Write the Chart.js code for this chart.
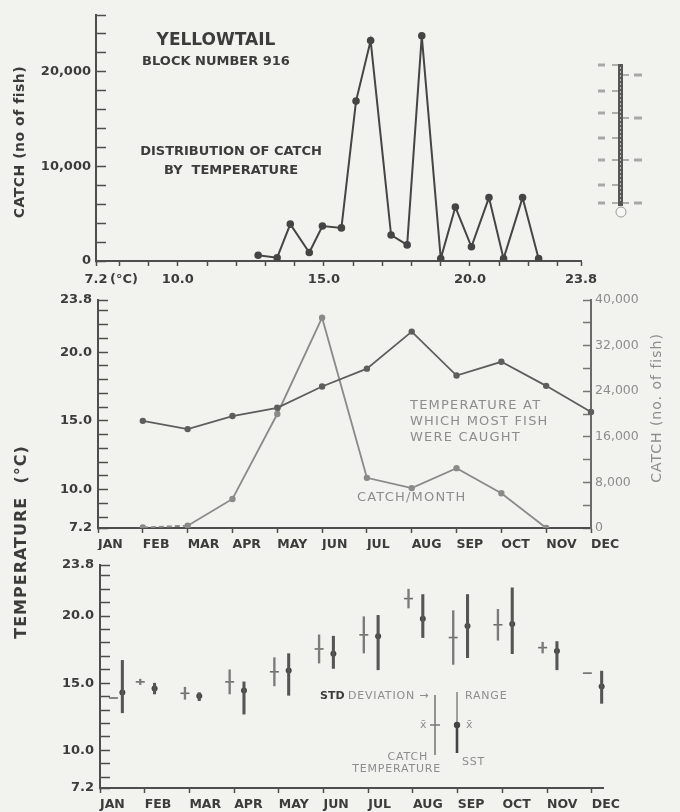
<!DOCTYPE html>
<html>
<head>
<meta charset="utf-8">
<title>Yellowtail block 916</title>
<script src="https://cdn.jsdelivr.net/npm/chart.js@4.4.1/dist/chart.umd.min.js"></script>
<style>
  html, body { margin: 0; padding: 0; background: #f2f2ef; }
  #wrap { position: relative; width: 680px; height: 812px; overflow: hidden; }
  #wrap canvas { position: absolute; left: 0; top: 0; }
</style>
</head>
<body>
<div id="wrap">
  <canvas id="distChart" width="680" height="812"></canvas>
  <canvas id="monthChart" width="680" height="812"></canvas>
  <canvas id="rangeChart" width="680" height="812"></canvas>
</div>
<script>
// catch distribution by temperature (top panel)
const distTemps = [12.75, 13.4, 13.85, 14.5, 14.95, 15.6, 16.1, 16.6, 17.3, 17.85, 18.35, 19.0, 19.5, 20.05, 20.65, 21.15, 21.8, 22.35];
const distCatch = [600, 350, 3900, 900, 3700, 3500, 16900, 23300, 2750, 1700, 23800, 250, 5700, 1500, 6700, 250, 6700, 250];

// monthly values (middle panel)
const months = ['JAN', 'FEB', 'MAR', 'APR', 'MAY', 'JUN', 'JUL', 'AUG', 'SEP', 'OCT', 'NOV', 'DEC'];
const mostCatchTemp = [null, 15.0, 14.4, 15.35, 15.95, 17.5, 18.8, 21.5, 18.3, 19.3, 17.55, 15.65];
const catchPerMonth = [null, 100, 400, 5100, 20000, 36900, 8800, 7000, 10500, 6100, 0, null];

// catch temperature and SST per month (bottom panel)
const catchTempMean = [13.9, 15.1, 14.25, 15.1, 15.85, 17.55, 18.6, 21.3, 18.4, 19.35, 17.65, 15.75];
const catchTempSd = [0, 0.2, 0.45, 0.9, 1.05, 1.05, 1.35, 0.7, 2.0, 1.15, 0.4, 0];
const sstMean = [14.3, 14.6, 14.05, 14.45, 15.95, 17.2, 18.5, 19.8, 19.25, 19.4, 17.4, 14.75];
const sstMin = [12.8, 14.2, 13.7, 12.7, 14.1, 16.1, 16.0, 18.4, 16.9, 17.2, 16.0, 13.5];
const sstMax = [16.7, 15.0, 14.3, 15.1, 17.2, 18.5, 20.05, 21.6, 21.6, 22.1, 18.1, 15.9];

// tick labels
const tempTickValues = [7.2, 10, 15, 20, 23.8];
const tempTickLabels = ['7.2', '10.0', '15.0', '20.0', '23.8'];
const distCatchLabels = [0, 10000, 20000];
const monthCatchLabels = [0, 8000, 16000, 24000, 32000, 40000];

const FAMILY = '"DejaVu Sans", sans-serif';
const INK = '#3c3c3c';
const FADE = '#8d8d8d';
const AXIS = '#4e4e4e';

// ticks every 1 degC plus both ends
function tempTicks(scale) {
    const t = [7.2];
    for (let v = 8; v <= 23; v++) t.push(v);
    t.push(23.8);
    scale.ticks = t.map(v => ({ value: v }));
}

function tempLabel(value) {
    const i = tempTickValues.findIndex(v => Math.abs(v - value) < 1e-6);
    return i >= 0 ? tempTickLabels[i] : '';
}

function fixSize(prop, size) {
    return function(scale) {
        scale[prop] = size;
        scale.paddingTop = 0;
        scale.paddingBottom = 0;
        scale.paddingLeft = 0;
        scale.paddingRight = 0;
    };
}

function note(ctx, text, x, y, o = {}) {
    ctx.save();
    ctx.font = o.font || 'bold 13px ' + FAMILY;
    ctx.fillStyle = o.color || INK;
    ctx.textAlign = o.align || 'left';
    ctx.textBaseline = 'middle';
    if (o.spacing) ctx.letterSpacing = o.spacing + 'px';
    ctx.translate(x, y);
    if (o.rotate) ctx.rotate(o.rotate);
    ctx.fillText(text, 0, 0);
    ctx.restore();
}

const tickFont = { family: FAMILY, size: 13, weight: 'bold' };

// ---------- top panel ----------
const distNotes = {
    id: 'distNotes',
    afterDraw(chart) {
        const ctx = chart.ctx;
        note(ctx, 'YELLOWTAIL', 216, 41, { font: 'bold 17px ' + FAMILY, align: 'center' });
        note(ctx, 'BLOCK NUMBER 916', 216, 62, { font: 'bold 13px ' + FAMILY, align: 'center' });
        note(ctx, 'DISTRIBUTION OF CATCH', 231, 152, { align: 'center' });
        note(ctx, 'BY  TEMPERATURE', 231, 171, { align: 'center' });
        note(ctx, 'CATCH (no of fish)', 20, 142, { font: 'bold 14px ' + FAMILY, align: 'center', rotate: -Math.PI / 2, spacing: 0.5 });
        note(ctx, '(°C)', 110, 280, { font: 'bold 13px ' + FAMILY });

        // little thermometer sketch, top right
        ctx.save();
        ctx.fillStyle = '#575757';
        ctx.fillRect(618, 64, 5, 142);
        ctx.strokeStyle = '#b9b9b9';
        ctx.lineWidth = 1;
        ctx.setLineDash([2, 2]);
        ctx.beginPath();
        ctx.moveTo(620.5, 67);
        ctx.lineTo(620.5, 203);
        ctx.stroke();
        ctx.setLineDash([]);
        ctx.strokeStyle = '#6a6a6a';
        ctx.beginPath();
        [65, 91, 113, 138, 160, 185, 203].forEach(y => { ctx.moveTo(612, y); ctx.lineTo(618, y); });
        [75, 118, 160, 203].forEach(y => { ctx.moveTo(623, y); ctx.lineTo(629, y); });
        ctx.stroke();
        ctx.fillStyle = '#a8a8a8';
        [65, 91, 113, 138, 160, 185, 203].forEach(y => ctx.fillRect(598, y - 1.5, 7, 3));
        [75, 118, 160, 203].forEach(y => ctx.fillRect(634, y - 1.5, 8, 3));
        ctx.beginPath();
        ctx.arc(621, 212, 5, 0, Math.PI * 2);
        ctx.fillStyle = '#f7f7f5';
        ctx.fill();
        ctx.strokeStyle = '#9a9a9a';
        ctx.stroke();
        ctx.restore();
    }
};

new Chart(document.getElementById('distChart'), {
    type: 'line',
    data: {
        datasets: [{
            data: distTemps.map((t, i) => ({ x: t, y: distCatch[i] })),
            borderColor: '#454545',
            backgroundColor: '#454545',
            borderWidth: 2,
            pointRadius: 2.8,
            tension: 0
        }]
    },
    options: {
        responsive: false,
        animation: false,
        layout: { padding: { left: 0, top: 15, right: 99, bottom: 512 } },
        plugins: { legend: { display: false }, tooltip: { enabled: false } },
        scales: {
            x: {
                type: 'linear',
                min: 7.2,
                max: 23.8,
                afterBuildTicks: tempTicks,
                afterFit: fixSize('height', 39),
                ticks: { callback: tempLabel, autoSkip: false, maxRotation: 0, padding: 6, font: tickFont, color: INK },
                grid: { drawOnChartArea: false, tickLength: 5, color: AXIS, tickWidth: 1.5 },
                border: { color: AXIS, width: 2 }
            },
            y: {
                min: 0,
                max: 26000,
                afterFit: fixSize('width', 96),
                ticks: {
                    stepSize: 2000,
                    padding: 15,
                    font: tickFont,
                    color: INK,
                    callback: v => distCatchLabels.includes(v) ? v.toLocaleString('en-US') : ''
                },
                grid: { drawOnChartArea: false, tickLength: -10, color: AXIS, tickWidth: 1.5 },
                border: { color: AXIS, width: 2 }
            }
        }
    },
    plugins: [distNotes]
});

// ---------- middle panel ----------
const monthNotes = {
    id: 'monthNotes',
    afterDraw(chart) {
        const ctx = chart.ctx;
        const light = { font: '13px ' + FAMILY, color: FADE, spacing: 1.2 };
        note(ctx, 'TEMPERATURE AT', 410, 406, light);
        note(ctx, 'WHICH MOST FISH', 410, 422, light);
        note(ctx, 'WERE CAUGHT', 410, 438, light);
        note(ctx, 'CATCH/MONTH', 357, 498, light);
        note(ctx, 'CATCH (no. of fish)', 657, 408, { font: '14px ' + FAMILY, color: FADE, align: 'center', rotate: -Math.PI / 2, spacing: 1 });
        note(ctx, 'TEMPERATURE  (°C)', 22, 542, { font: 'bold 16px ' + FAMILY, align: 'center', rotate: -Math.PI / 2, spacing: 1 });
    }
};

new Chart(document.getElementById('monthChart'), {
    type: 'line',
    data: {
        labels: months,
        datasets: [{
            data: mostCatchTemp,
            yAxisID: 'y',
            borderColor: '#5e5e5e',
            backgroundColor: '#5e5e5e',
            borderWidth: 1.8,
            pointRadius: 2.3,
            tension: 0
        }, {
            data: catchPerMonth,
            yAxisID: 'y1',
            borderColor: '#8a8a8a',
            backgroundColor: '#8a8a8a',
            borderWidth: 1.8,
            pointRadius: 2.3,
            tension: 0,
            segment: { borderDash: c => c.p0DataIndex === 1 ? [5, 3] : undefined }
        }]
    },
    options: {
        responsive: false,
        animation: false,
        layout: { padding: { left: 0, top: 300, right: 0, bottom: 262 } },
        plugins: { legend: { display: false }, tooltip: { enabled: false } },
        scales: {
            x: {
                type: 'category',
                offset: false,
                afterFit: fixSize('height', 22),
                ticks: { align: 'start', autoSkip: false, maxRotation: 0, padding: 4, font: { family: FAMILY, size: 12.5, weight: 'bold' }, color: INK },
                grid: { offset: false, drawOnChartArea: false, tickLength: 5, color: AXIS, tickWidth: 1.5 },
                border: { color: AXIS, width: 2 }
            },
            y: {
                position: 'left',
                min: 7.2,
                max: 23.8,
                afterBuildTicks: tempTicks,
                afterFit: fixSize('width', 98),
                ticks: { callback: tempLabel, autoSkip: false, padding: 16, font: tickFont, color: INK },
                grid: { drawOnChartArea: false, tickLength: -10, color: AXIS, tickWidth: 1.5 },
                border: { color: AXIS, width: 2 }
            },
            y1: {
                position: 'right',
                min: 0,
                max: 40000,
                afterFit: fixSize('width', 89),
                ticks: {
                    stepSize: 4000,
                    padding: 12,
                    font: { family: FAMILY, size: 12.5 },
                    color: FADE,
                    callback: v => monthCatchLabels.includes(v) ? v.toLocaleString('en-US') : ''
                },
                grid: { drawOnChartArea: false, tickLength: -8, color: '#777', tickWidth: 1.5 },
                border: { color: '#6a6a6a', width: 2 }
            }
        }
    },
    plugins: [monthNotes]
});

// ---------- bottom panel ----------
// catch temperature sits just left of each month tick, SST just right;
// January is nudged off the axis line as in the original figure
const catchX = i => (i === 0 ? 0.3 : i - 0.1);
const sstX = i => (i === 0 ? 0.5 : i + 0.22);

const rangeLegend = {
    id: 'rangeLegend',
    afterDraw(chart) {
        const ctx = chart.ctx;
        const light = { font: '11px ' + FAMILY, color: FADE, spacing: 0.8 };
        note(ctx, 'STD', 320, 696, { font: 'bold 11px ' + FAMILY, color: INK });
        note(ctx, 'DEVIATION \u2192', 348, 696, light);
        note(ctx, 'RANGE', 465, 696, light);
        note(ctx, 'x\u0304', 420, 725, light);
        note(ctx, 'x\u0304', 466, 725, light);
        note(ctx, 'CATCH', 428, 757, { ...light, align: 'right' });
        note(ctx, 'TEMPERATURE', 441, 769, { ...light, align: 'right' });
        note(ctx, 'SST', 462, 762, light);

        ctx.save();
        ctx.strokeStyle = '#7a7a7a';
        ctx.lineWidth = 1.6;
        ctx.beginPath();
        ctx.moveTo(435, 695); ctx.lineTo(435, 755);
        ctx.moveTo(430, 725); ctx.lineTo(440, 725);
        ctx.stroke();
        ctx.strokeStyle = '#8a8a8a';
        ctx.beginPath();
        ctx.moveTo(457, 692); ctx.lineTo(457, 725);
        ctx.stroke();
        ctx.strokeStyle = '#444';
        ctx.lineWidth = 2.6;
        ctx.beginPath();
        ctx.moveTo(457, 725); ctx.lineTo(457, 753);
        ctx.stroke();
        ctx.fillStyle = '#444';
        ctx.beginPath();
        ctx.arc(457, 725, 3.2, 0, Math.PI * 2);
        ctx.fill();
        ctx.restore();
    }
};

new Chart(document.getElementById('rangeChart'), {
    type: 'bar',
    data: {
        datasets: [{
            type: 'bar',
            data: months.map((m, i) => ({ x: catchX(i), y: [catchTempMean[i] - catchTempSd[i], catchTempMean[i] + catchTempSd[i]] })),
            backgroundColor: '#7b7b7b',
            barThickness: 1.7,
            grouped: false,
            clip: false
        }, {
            type: 'bar',
            data: months.map((m, i) => ({ x: sstX(i), y: [sstMin[i], sstMax[i]] })),
            backgroundColor: '#555',
            barThickness: 2.4,
            grouped: false,
            clip: false
        }, {
            type: 'scatter',
            data: months.map((m, i) => ({ x: catchX(i), y: catchTempMean[i] })),
            pointStyle: 'line',
            pointRadius: 4.5,
            borderColor: '#6d6d6d',
            borderWidth: 1.6,
            clip: false
        }, {
            type: 'scatter',
            data: months.map((m, i) => ({ x: sstX(i), y: sstMean[i] })),
            pointStyle: 'circle',
            pointRadius: 3,
            backgroundColor: '#444',
            borderWidth: 0,
            clip: false
        }]
    },
    options: {
        responsive: false,
        animation: false,
        // x runs a little past DEC so the December SST mark stays inside the plot
        layout: { padding: { left: 0, top: 565, right: 77, bottom: 0 } },
        plugins: { legend: { display: false }, tooltip: { enabled: false } },
        scales: {
            x: {
                type: 'linear',
                min: 0,
                max: 11.25,
                offset: false,
                afterBuildTicks: s => { s.ticks = months.map((m, i) => ({ value: i })); },
                afterFit: fixSize('height', 24),
                ticks: { align: 'start', autoSkip: false, maxRotation: 0, padding: 4, font: { family: FAMILY, size: 12.5, weight: 'bold' }, color: INK, callback: v => months[v] },
                grid: { offset: false, drawOnChartArea: false, tickLength: 5, color: AXIS, tickWidth: 1.5 },
                border: { color: AXIS, width: 2 }
            },
            y: {
                min: 7.2,
                max: 23.8,
                afterBuildTicks: tempTicks,
                afterFit: fixSize('width', 100),
                ticks: { callback: tempLabel, autoSkip: false, padding: 16, font: tickFont, color: INK },
                grid: { drawOnChartArea: false, tickLength: -10, color: AXIS, tickWidth: 1.5 },
                border: { color: AXIS, width: 2 }
            }
        }
    },
    plugins: [rangeLegend]
});
</script>
</body>
</html>
